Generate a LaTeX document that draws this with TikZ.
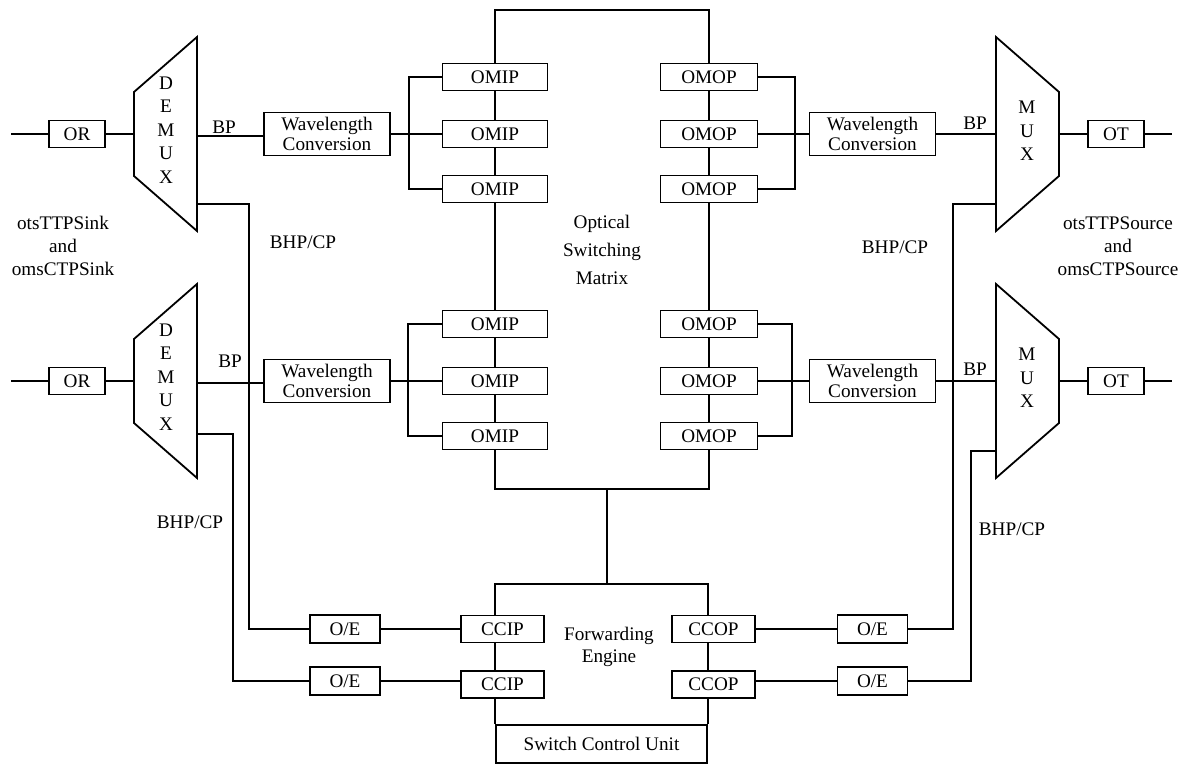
\documentclass[tikz,border=0pt]{standalone}
\usepackage{fontspec}
\setmainfont{Liberation Serif}
\usepackage{tikz}
\usetikzlibrary{positioning}

\begin{document}
\begin{tikzpicture}[x=0.5pt,y=-0.5pt,line width=0.9pt,
  every node/.style={font=\fontsize{9.6}{11.5}\selectfont},
  box/.style={draw,minimum height=13.5pt,inner sep=0pt},
  wcbox/.style={box,minimum width=63pt,minimum height=21.5pt,align=center,font=\fontsize{9.6}{10.25}\selectfont},
  lbl/.style={inner sep=0pt,align=center},
  letters/.style={lbl,font=\fontsize{9.6}{11.75}\selectfont}]
\useasboundingbox (0,0) rectangle (1185,765);

% demultiplexers and multiplexers
\draw (134,92) -- (197,37) -- (197,231) -- (134,176) -- cycle;
\draw (134,339) -- (197,284) -- (197,478) -- (134,423) -- cycle;
\draw (996,37) -- (1059,92) -- (1059,176) -- (996,231) -- cycle;
\draw (996,284) -- (1059,339) -- (1059,423) -- (996,478) -- cycle;
\node[letters] (dm1) at (166,130) {D\\E\\M\\U\\X};
\node[letters] (dm2) at (166,377) {D\\E\\M\\U\\X};
\node[letters] (mx1) at (1027,131) {M\\U\\X};
\node[letters] (mx2) at (1027,378) {M\\U\\X};

\coordinate (dm1w) at (134,134);
\coordinate (dm1bp) at (197,136);
\coordinate (dm1bhp) at (197,204);
\coordinate (dm2w) at (134,381);
\coordinate (dm2bp) at (197,383);
\coordinate (dm2bhp) at (197,434);
\coordinate (mx1w) at (996,134);
\coordinate (mx1e) at (1059,134);
\coordinate (mx1bhp) at (996,204);
\coordinate (mx2w) at (996,381);
\coordinate (mx2e) at (1059,381);
\coordinate (mx2bhp) at (996,451);
\coordinate (inL1) at (11,134);
\coordinate (inL2) at (11,381);
\coordinate (outR1) at (1172,134);
\coordinate (outR2) at (1172,381);
\coordinate (brL1) at (409,134);
\coordinate (brL2) at (408,381);
\coordinate (brR1) at (795,134);
\coordinate (brR2) at (792,381);
\coordinate (bhpL1) at (249,204);
\coordinate (bhpL2) at (233,434);
\coordinate (bhpR1) at (953,204);
\coordinate (bhpR2) at (971,451);
\coordinate (osmtop) at (602,10);
\coordinate (osmbot) at (607,489);
\coordinate (fetop) at (607,584);

% boxes
\node[box,minimum width=28pt] (or1) at (77,134) {OR};
\node[box,minimum width=28pt] (or2) at (77,381) {OR};
\node[box,minimum width=28pt] (ot1) at (1116,134) {OT};
\node[box,minimum width=28pt] (ot2) at (1116,381) {OT};
\node[wcbox] (wc1) at (327,134) {Wavelength\\Conversion};
\node[wcbox] (wc2) at (327,381) {Wavelength\\Conversion};
\node[wcbox] (wc3) at (872.5,134) {Wavelength\\Conversion};
\node[wcbox] (wc4) at (872.5,381) {Wavelength\\Conversion};

\node[box,minimum width=52.5pt] (omip11) at (495,77) {OMIP};
\node[box,minimum width=52.5pt] (omip12) at (495,134) {OMIP};
\node[box,minimum width=52.5pt] (omip13) at (495,189) {OMIP};
\node[box,minimum width=52.5pt] (omip21) at (495,324) {OMIP};
\node[box,minimum width=52.5pt] (omip22) at (495,381) {OMIP};
\node[box,minimum width=52.5pt] (omip23) at (495,436) {OMIP};
\node[box,minimum width=48.5pt] (omop11) at (709,77) {OMOP};
\node[box,minimum width=48.5pt] (omop12) at (709,134) {OMOP};
\node[box,minimum width=48.5pt] (omop13) at (709,189) {OMOP};
\node[box,minimum width=48.5pt] (omop21) at (709,324) {OMOP};
\node[box,minimum width=48.5pt] (omop22) at (709,381) {OMOP};
\node[box,minimum width=48.5pt] (omop23) at (709,436) {OMOP};

\node[box,minimum width=35pt,minimum height=14pt] (oe1) at (345,629) {O/E};
\node[box,minimum width=35pt,minimum height=14pt] (oe2) at (345,681) {O/E};
\node[box,minimum width=35pt,minimum height=14pt] (oe3) at (872.5,629) {O/E};
\node[box,minimum width=35pt,minimum height=14pt] (oe4) at (872.5,681) {O/E};
\node[box,minimum width=41.5pt] (ccip1) at (502.5,629) {CCIP};
\node[box,minimum width=41.5pt] (ccip2) at (502.5,684.5) {CCIP};
\node[box,minimum width=41.5pt] (ccop1) at (713.5,629) {CCOP};
\node[box,minimum width=41.5pt] (ccop2) at (713.5,684.5) {CCOP};
\node[box,minimum width=105.5pt,minimum height=19pt] (scu) at (601.5,744) {Switch Control Unit};

% labels
\node[lbl] (bp1) at (224,127) {BP};
\node[lbl] (bp2) at (230,361) {BP};
\node[lbl] (bp3) at (975,123) {BP};
\node[lbl] (bp4) at (975,369) {BP};
\node[lbl] (bhp1) at (303,242) {BHP/CP};
\node[lbl] (bhp2) at (190,522) {BHP/CP};
\node[lbl] (bhp3) at (895,247) {BHP/CP};
\node[lbl] (bhp4) at (1012,529) {BHP/CP};
\node[lbl] (sink) at (63,246) {otsTTPSink\\and\\omsCTPSink};
\node[lbl] (source) at (1118,246) {otsTTPSource\\and\\omsCTPSource};
\node[lbl,font=\fontsize{9.6}{14}\selectfont] (osm) at (602,250) {Optical\\Switching\\Matrix};
\node[lbl,font=\fontsize{9.6}{11}\selectfont] (fe) at (609,647) {Forwarding\\Engine};

% optical paths
\draw (inL1) -- (or1) -- (dm1w);
\draw (inL2) -- (or2) -- (dm2w);
\draw (dm1bp) -- (dm1bp -| wc1.west);
\draw (dm2bp) -- (dm2bp -| wc2.west);
\draw (wc1) -- (brL1);
\draw (wc2) -- (brL2);
\draw (omip11.west) -| (brL1) (omip12.west) -- (brL1) (omip13.west) -| (brL1);
\draw (omip21.west) -| (brL2) (omip22.west) -- (brL2) (omip23.west) -| (brL2);
\draw (omop11.east) -| (brR1) (omop12.east) -- (brR1) (omop13.east) -| (brR1);
\draw (omop21.east) -| (brR2) (omop22.east) -- (brR2) (omop23.east) -| (brR2);
\draw (brR1) -- (wc3) -- (mx1w);
\draw (brR2) -- (wc4) -- (mx2w);
\draw (mx1e) -- (ot1) -- (outR1);
\draw (mx2e) -- (ot2) -- (outR2);

% switching matrix
\draw (omip11) -- (omip12) -- (omip13) -- (omip21) -- (omip22) -- (omip23);
\draw (omop11) -- (omop12) -- (omop13) -- (omop21) -- (omop22) -- (omop23);
\draw (omip11.north) |- (osmtop) -| (omop11.north);
\draw (omip23.south) |- (osmbot) -| (omop23.south);
\draw (osmbot) -- (fetop);

% forwarding engine
\draw (ccip1.north -| scu.west) |- (fetop) -| (ccop1.north -| scu.east);
\draw (ccip1.south -| scu.west) -- (ccip2.north -| scu.west);
\draw (ccip2.south -| scu.west) -- (scu.north west);
\draw (ccop1.south -| scu.east) -- (ccop2.north -| scu.east);
\draw (ccop2.south -| scu.east) -- (scu.north east);

% control paths
\draw (dm1bhp) -- (bhpL1) |- (oe1.west);
\draw (dm2bhp) -- (bhpL2) |- (oe2.west);
\draw (mx1bhp) -- (bhpR1) |- (oe3.east);
\draw (mx2bhp) -- (bhpR2) |- (oe4.east);
\draw (oe1) -- (ccip1);
\draw (oe2.east) -- (oe2.east -| ccip2.west);
\draw (ccop1) -- (oe3);
\draw (ccop2.east |- oe4) -- (oe4.west);
\end{tikzpicture}
\end{document}
